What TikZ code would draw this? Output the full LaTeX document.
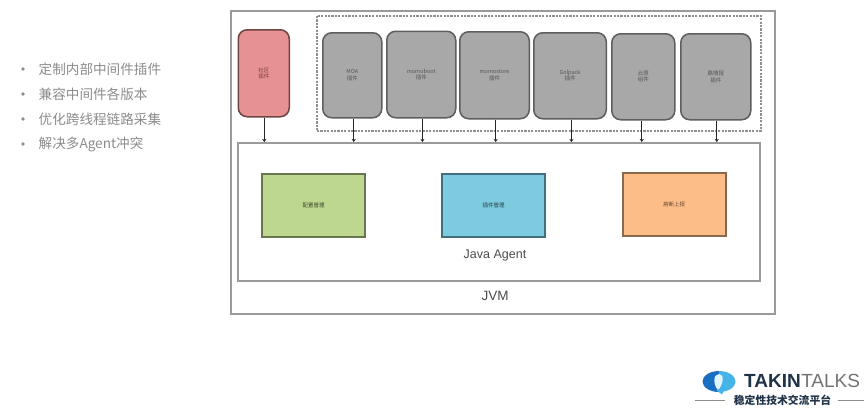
\documentclass[tikz,border=0pt]{standalone}
\usepackage{fontspec}
\setmainfont{Liberation Sans}
\newfontfamily\cjk{Noto Sans CJK SC}
\usetikzlibrary{arrows.meta}
\definecolor{frameg}{HTML}{9A9A9A}
\definecolor{dashg}{HTML}{8F8F8F}
\definecolor{listg}{HTML}{8C8C8C}
\definecolor{plugred}{HTML}{E79292}
\definecolor{redline}{HTML}{6E4444}
\definecolor{redtext}{HTML}{7A3A3A}
\definecolor{pluggray}{HTML}{A8A8A8}
\definecolor{grayline}{HTML}{5E5E5E}
\definecolor{graytext}{HTML}{555555}
\definecolor{modgreen}{HTML}{BDD78F}
\definecolor{modblue}{HTML}{7CCBE1}
\definecolor{modorange}{HTML}{FDBD88}
\definecolor{logodark}{HTML}{1B6FC2}
\definecolor{logolight}{HTML}{45B4E8}
\definecolor{logotext}{HTML}{1F3348}
\tikzset{
  x=1pt,y=-1pt,
  framebox/.style={draw=frameg,line width=2pt,fill=none},
  plug/.style={draw=grayline,fill=pluggray,line width=1.5pt,rounded corners=9pt,inner sep=0pt,anchor=north west,
     font=\cjk\fontsize{5.5}{6.5}\selectfont,align=center,text=graytext},
  redplug/.style={plug,draw=redline,fill=plugred,text=redtext},
  modbox/.style={line width=2pt,inner sep=0pt,anchor=north west,minimum width=103pt,minimum height=62.5pt,
     font=\cjk\fontsize{5.5}{6.5}\selectfont},
  link/.style={draw=black!85,line width=1.4pt,-{Stealth[length=3pt,width=4pt]}},
  bul/.style={anchor=west,inner sep=0pt,text=listg,font=\cjk\fontsize{13.6}{16}\selectfont},
  dotmark/.style={circle,fill=listg,inner sep=0pt,minimum size=3.6pt},
  lab/.style={inner sep=0pt,text=black!70},
}
\begin{document}
\begin{tikzpicture}
\useasboundingbox (0,0) rectangle (864,407);
\fill[white] (0,0) rectangle (864,407);

% list
\foreach \n/\yy/\t in {a/69/定制内部中间件插件,b/94/兼容中间件各版本,c/119/优化跨线程链路采集,d/144/解决多Agent冲突}{
  \node[dotmark] (dot\n) at (23,\yy) {};
  \node[bul] (txt\n) at (38.5,\yy) {\t};
}

% frames
\node[framebox,inner sep=0pt,anchor=north west,minimum width=543.5pt,minimum height=302.5pt] (jvm) at (230,10) {};
\node[draw=dashg,line width=2pt,dash pattern=on 2.2pt off 1.2pt,inner sep=0pt,anchor=north west,minimum width=443.5pt,minimum height=115.5pt] (group) at (316,14.5) {};
\node[framebox,inner sep=0pt,anchor=north west,minimum width=521.5pt,minimum height=137.5pt] (agent) at (237,142) {};

% plugins
\node[redplug,minimum width=51pt,minimum height=87pt] (pred) at (237.5,29) {社区\\插件};
\node[plug,minimum width=59pt,minimum height=85pt] (pmoa) at (322,32) {MOA\\插件};
\node[plug,minimum width=69pt,minimum height=86.5pt] (pboot) at (386,30.5) {momoboot\\插件};
\node[plug,minimum width=69.5pt,minimum height=87pt] (pstore) at (459,31) {momostore\\插件};
\node[plug,minimum width=72.5pt,minimum height=86pt] (pgol) at (533,32) {Golpack\\插件};
\node[plug,minimum width=63pt,minimum height=86pt] (pcloud) at (611,33) {云原\\组件};
\node[plug,minimum width=70pt,minimum height=86pt] (plast) at (680,33) {路情报\\插件};

% connectors
\draw[link] (pred.south) ++(0.5,0) coordinate (s1) -- (s1 |- agent.north);
\draw[link] (pmoa.south) ++(1.5,0) coordinate (s2) -- (s2 |- agent.north);
\draw[link] (pboot.south) ++(1.2,0) coordinate (s3) -- (s3 |- agent.north);
\draw[link] (pstore.south) ++(1.2,0) coordinate (s4) -- (s4 |- agent.north);
\draw[link] (pgol.south) ++(1.4,0) coordinate (s5) -- (s5 |- agent.north);
\draw[link] (pcloud.south) ++(-1.5,0) coordinate (s6) -- (s6 |- agent.north);
\draw[link] (plast.south) ++(1,0) coordinate (s7) -- (s7 |- agent.north);

% modules
\node[modbox,draw=modgreen!55!black,fill=modgreen,text=modgreen!30!black] (mconf) at (261,173) {配置管理};
\node[modbox,draw=modblue!55!black,fill=modblue,text=modblue!30!black] (mplug) at (441,173) {插件管理};
\node[modbox,draw=modorange!55!black,fill=modorange,text=modorange!40!black] (mrep) at (621.5,172) {熔断上报};

% labels
\node[lab,font=\fontsize{12.5}{15}\selectfont] (lagent) at (495,255) {Java Agent};
\node[lab,font=\fontsize{13.5}{16}\selectfont] (ljvm) at (495,296) {JVM};

% logo
\begin{scope}
  \clip (700,365) rectangle (719,398);
  \fill[logodark] (719,381.5) ellipse[x radius=16.5,y radius=10.5];
\end{scope}
\begin{scope}
  \clip (719,365) rectangle (740,398);
  \fill[logolight] (719,381.5) ellipse[x radius=16.5,y radius=10.5];
\end{scope}
\fill[logolight] (716,390) -- (722,394.5) -- (724,390) -- cycle;
\fill[white!85!logolight] (719,374) .. controls (713,374) and (713,385) .. (718,390) .. controls (723,385) and (725,374) .. (719,374) -- cycle;
\node[anchor=west,inner sep=0pt,font=\bfseries\fontsize{19}{22}\selectfont,text=logotext] (ltakin) at (744,380.5) {TAKIN};
\node[anchor=west,inner sep=0pt,font=\fontsize{19}{22}\selectfont,text=black!55] (ltalks) at (ltakin.east) {TALKS};
\node[inner sep=0pt,font=\cjk\bfseries\fontsize{10.8}{12}\selectfont,text=logotext] (lsub) at (782.5,400) {稳定性技术交流平台};
\coordinate (lineA) at (695,400);
\coordinate (lineB) at (725,400);
\coordinate (lineC) at (838,400);
\coordinate (lineD) at (864,400);
\draw[black!45,line width=0.7pt] (lineA) -- (lineB);
\draw[black!45,line width=0.7pt] (lineC) -- (lineD);
\end{tikzpicture}
\end{document}
